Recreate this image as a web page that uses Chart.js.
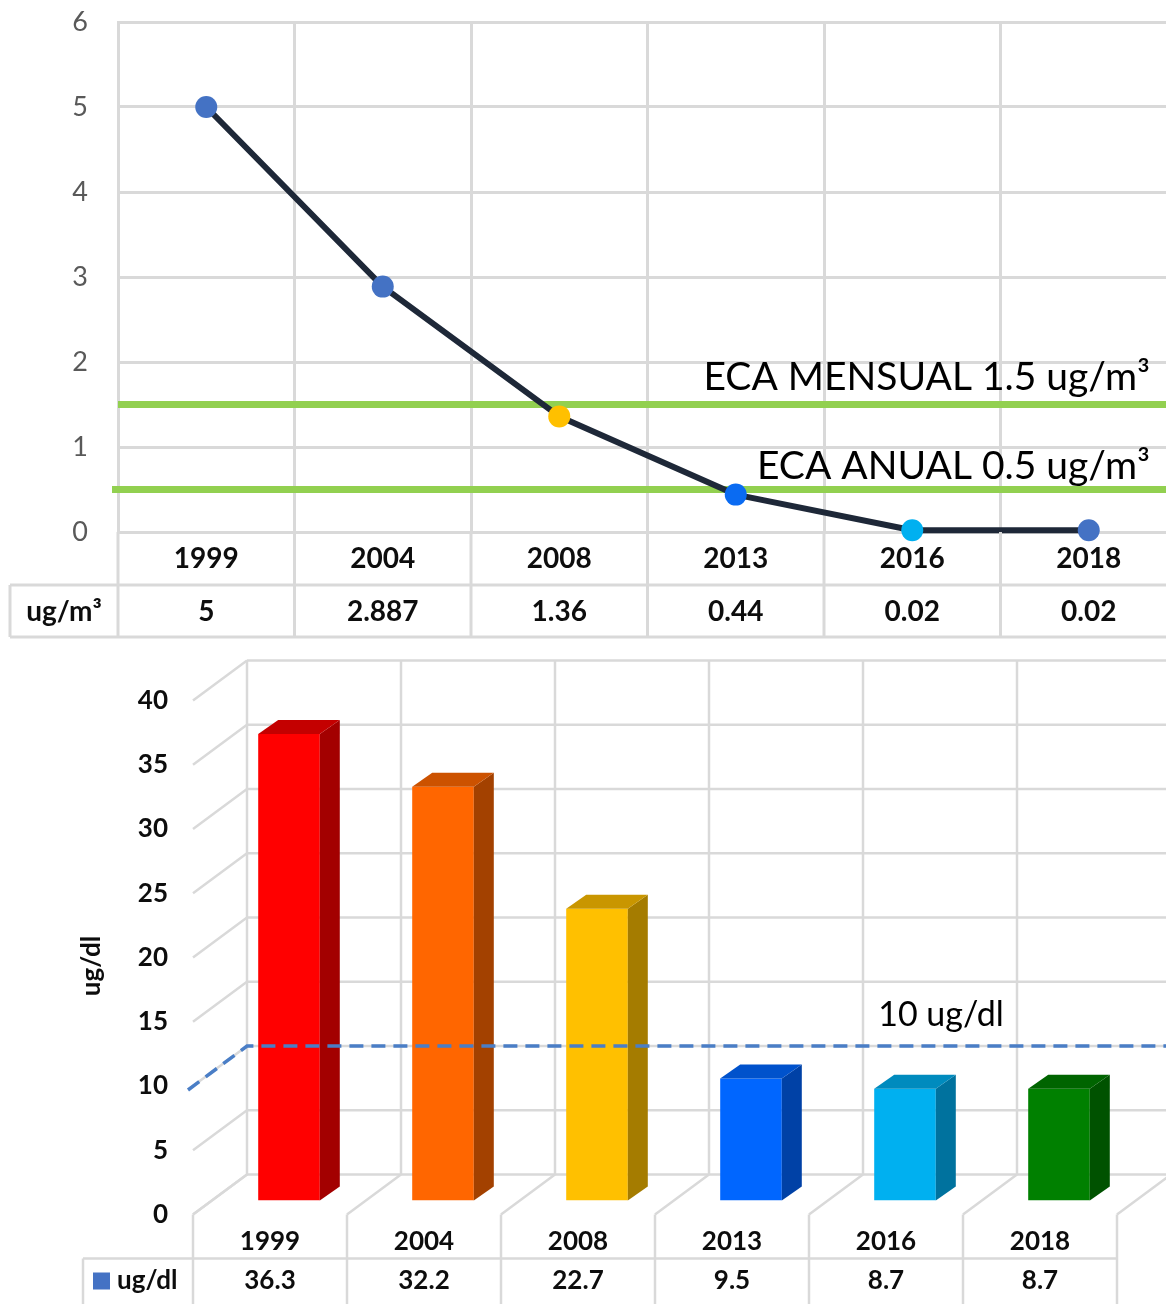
<!DOCTYPE html>
<html lang="es">
<head>
<meta charset="utf-8">
<title>Plomo en aire y en sangre</title>
<script src="https://cdn.jsdelivr.net/npm/chart.js@4.4.1/dist/chart.umd.min.js"></script>
<style>
  html, body { margin: 0; padding: 0; background: #fff; overflow: hidden; }
  #wrap { position: relative; width: 1166px; height: 1304px; overflow: hidden; }
  #wrap canvas { position: absolute; left: 0; display: block; }
  #airChart { top: 0; }
  #bloodChart { top: 645px; }
</style>
</head>
<body>
<div id="wrap">
  <canvas id="airChart" width="1188" height="645"></canvas>
  <canvas id="bloodChart" width="1180" height="659"></canvas>
</div>
<script>
// ---- data ----
const years = ['1999', '2004', '2008', '2013', '2016', '2018'];

// lead in air, ug/m3
const airUnit = 'ug/m³';
const airLead = [5, 2.887, 1.36, 0.44, 0.02, 0.02];
const airPointColors = ['#4472C4', '#4472C4', '#FFC000', '#0A6BF2', '#00B0F0', '#4472C4'];
const ecaMensual = 1.5;
const ecaAnual = 0.5;
const ecaMensualLabel = 'ECA MENSUAL 1.5 ug/m³';
const ecaAnualLabel = 'ECA ANUAL 0.5 ug/m³';

// lead in blood, ug/dl
const bloodUnit = 'ug/dl';
const bloodLead = [36.3, 32.2, 22.7, 9.5, 8.7, 8.7];
const barFront = ['#FF0000', '#FF6600', '#FFC000', '#0066FF', '#00B0F0', '#008000'];
const barSide  = ['#A30000', '#A34100', '#A57C00', '#0041A6', '#00729E', '#005200'];
const barTop   = ['#C40000', '#CC5200', '#C99600', '#0052CC', '#008BBE', '#006400'];
const bloodLimit = 10;
const bloodLimitLabel = '10 ug/dl';

// ---- shared styles ----
const FONT = 'Lato, "Open Sans", "DejaVu Sans", sans-serif';
const GRID = '#D9D9D9';
Chart.defaults.font.family = FONT;

function seg(ctx, x1, y1, x2, y2) {
  ctx.beginPath();
  ctx.moveTo(x1, y1);
  ctx.lineTo(x2, y2);
  ctx.stroke();
}

function categoryBounds(x, n) {
  const half = (x.getPixelForValue(1) - x.getPixelForValue(0)) / 2;
  const b = [];
  for (let i = 0; i < n; i++) b.push(x.getPixelForValue(i) - half);
  b.push(x.getPixelForValue(n - 1) + half);
  return b;
}

// ---- air chart: limit lines and data table ----
const airOverlay = {
  id: 'airOverlay',
  beforeDatasetsDraw(chart) {
    const { ctx, chartArea: a, scales: { y } } = chart;
    ctx.save();
    ctx.strokeStyle = '#92D050';
    ctx.lineWidth = 7;
    const yM = y.getPixelForValue(ecaMensual);
    const yA = y.getPixelForValue(ecaAnual);
    seg(ctx, a.left, yM, chart.width, yM);
    seg(ctx, a.left - 6, yA, chart.width, yA);
    ctx.fillStyle = '#000';
    ctx.font = '39px ' + FONT;
    ctx.textAlign = 'right';
    ctx.textBaseline = 'alphabetic';
    ctx.fillText(ecaMensualLabel, 1150, yM - 15);
    ctx.fillText(ecaAnualLabel, 1150, yA - 11);
    ctx.restore();
  },
  afterDraw(chart) {
    const { ctx, chartArea: a, scales: { x } } = chart;
    const bounds = categoryBounds(x, years.length);
    const rowA = a.bottom;        // bottom of plot
    const rowB = a.bottom + 53;   // between year row and value row
    const rowC = a.bottom + 105;  // table bottom
    ctx.save();
    ctx.strokeStyle = GRID;
    ctx.lineWidth = 3;
    bounds.forEach(b => seg(ctx, b, rowA, b, rowC));
    seg(ctx, 10, rowB, 10, rowC);
    seg(ctx, 10, rowB, chart.width, rowB);
    seg(ctx, 10, rowC, chart.width, rowC);

    ctx.fillStyle = '#0D0D0D';
    ctx.font = 'bold 28px ' + FONT;
    ctx.textAlign = 'center';
    ctx.textBaseline = 'middle';
    years.forEach((yr, i) => {
      const cx = x.getPixelForValue(i);
      ctx.fillText(yr, cx, rowA + 27);
      ctx.fillText(String(airLead[i]), cx, rowB + 27);
    });
    ctx.fillText(airUnit, (10 + bounds[0]) / 2, rowB + 27);
    ctx.restore();
  }
};

new Chart(document.getElementById('airChart'), {
  type: 'line',
  data: {
    labels: years,
    datasets: [{
      label: airUnit,
      data: airLead,
      borderColor: '#1E2838',
      borderWidth: 6,
      borderJoinStyle: 'round',
      tension: 0,
      clip: false,
      pointRadius: 11,
      pointHoverRadius: 11,
      pointBorderWidth: 0,
      pointBackgroundColor: airPointColors
    }]
  },
  options: {
    responsive: false,
    animation: false,
    events: [],
    layout: { padding: { left: 0, top: 22, right: 4, bottom: 0 } },
    plugins: { legend: { display: false }, tooltip: { enabled: false } },
    scales: {
      x: {
        offset: true,
        grid: { offset: true, color: GRID, lineWidth: 3, drawTicks: false },
        border: { color: GRID, width: 3 },
        ticks: { display: false },
        afterFit: s => { s.height = 113; s.paddingLeft = 0; s.paddingRight = 0; }
      },
      y: {
        min: 0,
        max: 6,
        ticks: { stepSize: 1, color: '#595959', font: { size: 27 }, padding: 30 },
        grid: { color: GRID, lineWidth: 3, drawTicks: false },
        border: { color: GRID, width: 3 },
        afterFit: s => { s.width = 118; s.paddingTop = 0; s.paddingBottom = 0; }
      }
    }
  },
  plugins: [airOverlay]
});

// ---- blood chart: 3D bars on a wall / floor frame ----
// offsets from the plane of the bar fronts
const BACK = { dx: 35, dy: -26 };
const FRONT = { dx: -19, dy: 14 };
const DEPTH = { dx: 20, dy: -14 };

const bloodFrame = {
  id: 'bloodFrame',
  beforeDatasetsDraw(chart) {
    const { ctx, scales: { x, y } } = chart;
    const bounds = categoryBounds(x, years.length);
    const ticks = y.ticks.map(t => t.value);
    const y0 = y.getPixelForValue(0);
    const yMax = y.getPixelForValue(y.max);
    const left = bounds[0];
    const H = chart.height;
    ctx.save();
    ctx.strokeStyle = GRID;
    ctx.lineWidth = 2.5;
    // back wall
    ticks.forEach(v => {
      const py = y.getPixelForValue(v) + BACK.dy;
      seg(ctx, left + BACK.dx, py, chart.width, py);
    });
    bounds.forEach(b => seg(ctx, b + BACK.dx, yMax + BACK.dy, b + BACK.dx, y0 + BACK.dy));
    // side wall
    ticks.forEach(v => {
      const py = y.getPixelForValue(v);
      seg(ctx, left + FRONT.dx, py + FRONT.dy, left + BACK.dx, py + BACK.dy);
    });
    // floor and table columns
    bounds.forEach(b => {
      seg(ctx, b + FRONT.dx, y0 + FRONT.dy, b + BACK.dx, y0 + BACK.dy);
      seg(ctx, b + FRONT.dx, y0 + FRONT.dy, b + FRONT.dx, H);
    });
    const rowLine = y0 + 58;
    seg(ctx, 83, rowLine, bounds[bounds.length - 1] + FRONT.dx, rowLine);
    seg(ctx, 83, rowLine, 83, H);

    // value axis labels on the front edge
    ctx.fillStyle = '#0D0D0D';
    ctx.font = 'bold 26px ' + FONT;
    ctx.textAlign = 'right';
    ctx.textBaseline = 'middle';
    ticks.forEach(v => ctx.fillText(String(v), left + FRONT.dx - 25, y.getPixelForValue(v) + FRONT.dy));

    // axis title
    ctx.save();
    ctx.translate(92, 321);
    ctx.rotate(-Math.PI / 2);
    ctx.textAlign = 'center';
    ctx.fillText(bloodUnit, 0, 0);
    ctx.restore();

    // data table
    ctx.textAlign = 'center';
    years.forEach((yr, i) => {
      const cx = x.getPixelForValue(i) + FRONT.dx;
      ctx.fillText(yr, cx, y0 + 41);
      ctx.fillText(String(bloodLead[i]), cx, y0 + 80);
    });
    ctx.fillStyle = '#4472C4';
    ctx.fillRect(93, y0 + 72, 17, 17);
    ctx.fillStyle = '#0D0D0D';
    ctx.textAlign = 'left';
    ctx.fillText(bloodUnit, 117, y0 + 80);
    ctx.restore();
  },
  afterDatasetsDraw(chart) {
    const { ctx, scales: { x, y } } = chart;
    const meta = chart.getDatasetMeta(0);
    ctx.save();
    meta.data.forEach((bar, i) => {
      const p = bar.getProps(['x', 'y', 'base', 'width'], true);
      const l = p.x - p.width / 2, r = p.x + p.width / 2;
      // side face
      ctx.fillStyle = barSide[i];
      ctx.beginPath();
      ctx.moveTo(r, p.y);
      ctx.lineTo(r + DEPTH.dx, p.y + DEPTH.dy);
      ctx.lineTo(r + DEPTH.dx, p.base + DEPTH.dy);
      ctx.lineTo(r, p.base);
      ctx.closePath();
      ctx.fill();
      // top face
      ctx.fillStyle = barTop[i];
      ctx.beginPath();
      ctx.moveTo(l, p.y);
      ctx.lineTo(l + DEPTH.dx, p.y + DEPTH.dy);
      ctx.lineTo(r + DEPTH.dx, p.y + DEPTH.dy);
      ctx.lineTo(r, p.y);
      ctx.closePath();
      ctx.fill();
    });

    // limit line on the back wall, bending down the side wall
    const bounds = categoryBounds(x, years.length);
    const ly = y.getPixelForValue(bloodLimit);
    ctx.strokeStyle = '#4A7EC6';
    ctx.lineWidth = 3.5;
    ctx.setLineDash([14, 8]);
    ctx.beginPath();
    ctx.moveTo(bounds[0] + FRONT.dx - 5, ly + FRONT.dy + 4);
    ctx.lineTo(bounds[0] + BACK.dx, ly + BACK.dy);
    ctx.lineTo(chart.width, ly + BACK.dy);
    ctx.stroke();
    ctx.setLineDash([]);
    ctx.fillStyle = '#000';
    ctx.font = '34px ' + FONT;
    ctx.textAlign = 'center';
    ctx.textBaseline = 'alphabetic';
    ctx.fillText(bloodLimitLabel, 941, ly + BACK.dy - 20);
    ctx.restore();
  }
};

new Chart(document.getElementById('bloodChart'), {
  type: 'bar',
  data: {
    labels: years,
    datasets: [{
      label: bloodUnit,
      data: bloodLead,
      backgroundColor: barFront,
      borderWidth: 0,
      barPercentage: 0.4,
      categoryPercentage: 1
    }]
  },
  options: {
    responsive: false,
    animation: false,
    events: [],
    layout: { padding: { left: 212, top: 41.5, right: 44, bottom: 103.5 } },
    plugins: { legend: { display: false }, tooltip: { enabled: false } },
    scales: {
      x: { display: false, offset: true },
      y: { display: false, min: 0, max: 40, ticks: { stepSize: 5 } }
    }
  },
  plugins: [bloodFrame]
});
</script>
</body>
</html>
